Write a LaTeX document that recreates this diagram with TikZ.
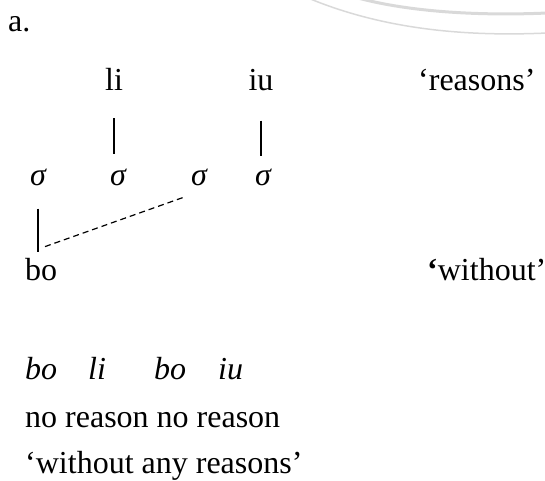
\documentclass[tikz,border=0pt]{standalone}
\usepackage{fontspec}
\setmainfont{Liberation Serif}
\begin{document}
\begin{tikzpicture}[x=1pt,y=1pt,
  every node/.style={inner sep=0pt, font=\fontsize{32}{38}\selectfont},
  lbl/.style={anchor=base west},
  ctr/.style={anchor=base},
  syl/.style={anchor=base, font=\fontsize{32}{38}\selectfont\itshape},
  itl/.style={anchor=base west, font=\fontsize{32}{38}\selectfont\itshape},
  assoc/.style={line width=1.3pt},
  delink/.style={line width=1.2pt, dash pattern=on 6pt off 4pt},
  arcdeco/.style={draw=black!15}]
\useasboundingbox (0,0) rectangle (545,480);
\begin{scope}
  \clip (0,0) rectangle (545,480);
  \draw[arcdeco, line width=1.5pt] (308,482) .. controls (380,452) and (460,443) .. (547,447);
  \draw[arcdeco, line width=3pt] (358,482) .. controls (410,468) and (480,464) .. (547,467);
\end{scope}
\node[lbl] (a) at (8,448) {a.};
\node[ctr] (li) at (114,389) {li};
\node[ctr] (iu) at (261,389) {iu};
\node[lbl] (reasons) at (418,389) {‘reasons’};
\node[syl] (s1) at (38,295) {σ};
\node[syl] (s2) at (118,295) {σ};
\node[syl] (s3) at (199,295) {σ};
\node[syl] (s4) at (263,295) {σ};
\node[lbl] (bo) at (25,200) {bo};
\node[lbl] (without) at (427,200) {\textbf{‘}without’};
\node[itl] (g1) at (25,101) {bo};
\node[itl] (g2) at (88,101) {li};
\node[itl] (g3) at (154,101) {bo};
\node[itl] (g4) at (218,101) {iu};
\node[lbl] (gloss) at (25,53) {no reason no reason};
\node[lbl] (trans) at (25,7) {‘without any reasons’};
\draw[assoc] ([yshift=-27pt]li.south) -- ([yshift=14pt]li.south |- s2.north);
\draw[assoc] ([yshift=-29pt]iu.south) -- ([yshift=12pt]iu.south |- s4.north);
\draw[assoc] ([yshift=-23pt]s1.south) -- ([yshift=6pt]s1.south |- bo.north);
\draw[delink] ([shift={(20pt,11pt)}]bo.north west) -- ([shift={(-16pt,-12pt)}]s3.south);
\end{tikzpicture}
\end{document}
